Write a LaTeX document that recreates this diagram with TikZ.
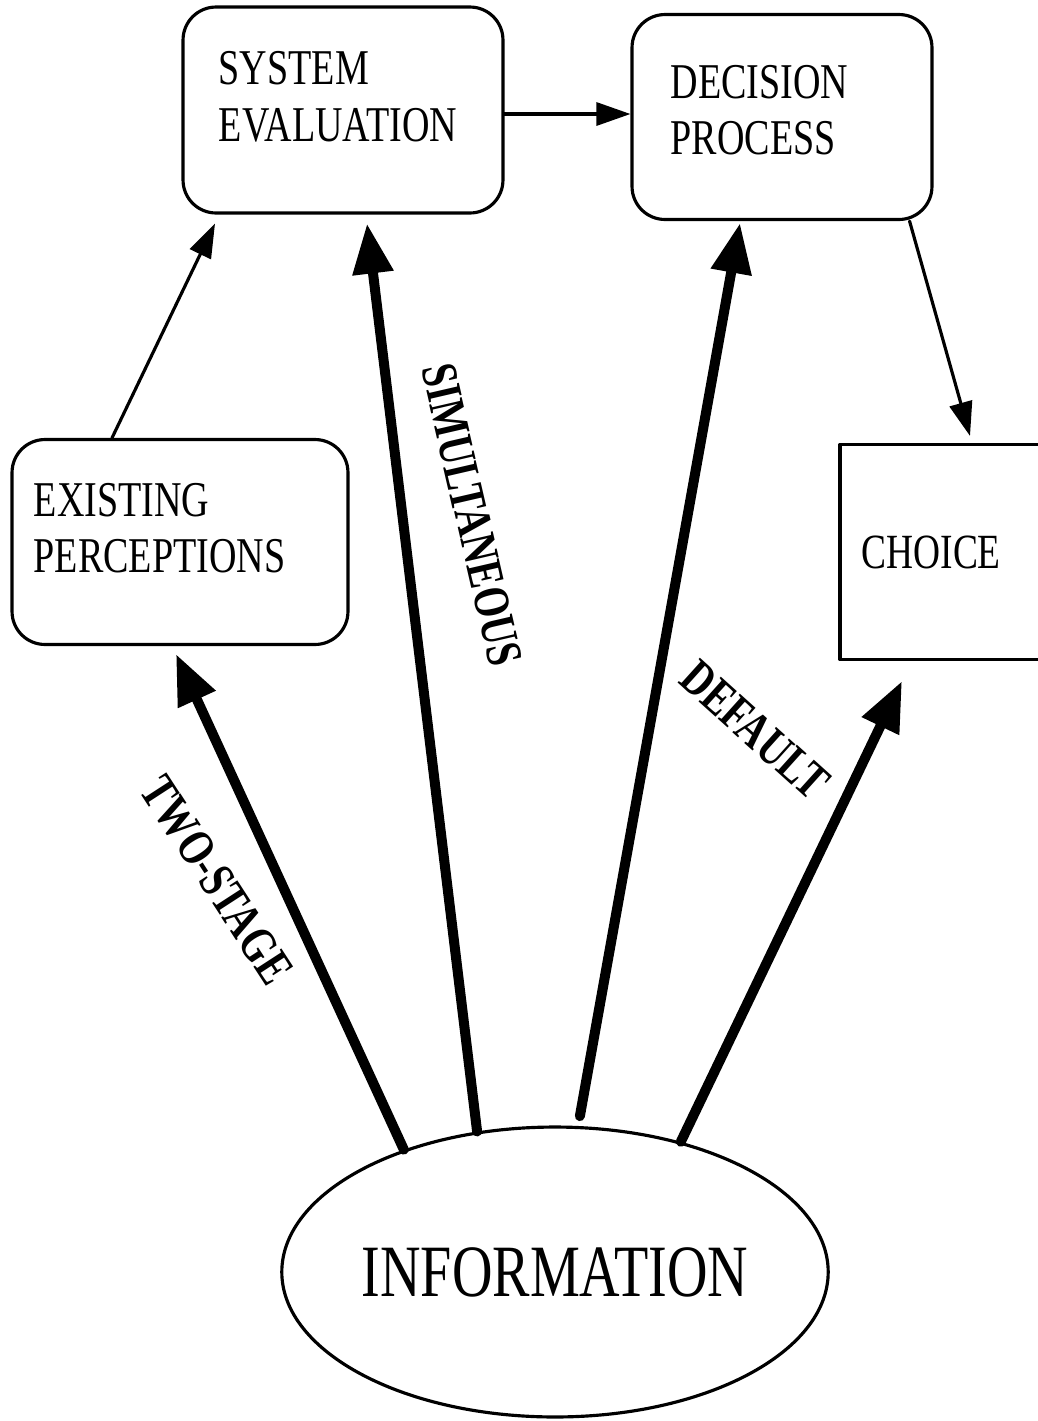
\documentclass[tikz,border=0pt]{standalone}
\usepackage{fontspec}
\setmainfont{Liberation Serif}[FakeStretch=0.76]
\usepackage{tikz}
\usetikzlibrary{calc}
\usetikzlibrary{arrows.meta}
\usetikzlibrary{shapes.geometric}

\tikzset{
  box/.style={draw, line width=1.8pt, rounded corners=0.66cm},
  boxtext/.style={align=left, inner sep=0pt, anchor=north west, font=\fontsize{28.5}{32}\selectfont},
  choicebox/.style={draw, line width=1.8pt, font=\fontsize{28}{32}\selectfont},
  infoellipse/.style={draw, ellipse, line width=1.8pt, inner sep=0pt,
    font=\fontsize{42}{42}\selectfont},
  thinarrow/.style={line width=1.8pt, -{Triangle[length=0.68cm, width=0.46cm]}},
  thickarrow/.style={line width=0.2cm, -{Triangle[length=1cm, width=0.78cm]}},
  arrowlabel/.style={font=\bfseries\fontsize{29}{29}\selectfont, inner sep=0pt}
}

\begin{document}
\begin{tikzpicture}[x=0.02cm, y=-0.02cm, line cap=round, line join=round]
  \useasboundingbox (0, 0) rectangle (1038, 1421);
  %--- Boxes
    \node[box, minimum width=6.4cm, minimum height=4.12cm,
      label={[boxtext, xshift=0.74cm, yshift=-0.92cm]north west:SYSTEM\\EVALUATION}] (syseval) at (343, 110) {};
    \node[box, minimum width=6cm, minimum height=4.1cm,
      label={[boxtext, xshift=0.8cm, yshift=-1.04cm]north west:DECISION\\PROCESS}] (decision) at (782, 117) {};
    \node[box, minimum width=6.72cm, minimum height=4.1cm,
      label={[boxtext, xshift=0.46cm, yshift=-0.9cm]north west:EXISTING\\PERCEPTIONS}] (existing) at (180, 542) {};
    \node[choicebox, minimum width=4.2cm, minimum height=4.3cm] (choice) at (945, 552) {\hspace*{-0.55cm}CHOICE};
  %--- Information
    \node[infoellipse, minimum width=10.68cm, minimum height=5.8cm] (info) at (555, 1272) {INFORMATION};
  %--- Thin arrows
    \draw[thinarrow] ($(syseval.east)+(0, 4)$) -- ($(syseval.east -| decision.west)+(0, 4)$);
    \draw[thinarrow] ($(existing.north)+(-68, 0)$) -- ($(syseval.south)+(-128, 9)$);
    \draw[thinarrow] ($(decision.south east)+(-24, 0)$) -- ($(choice.north)+(25, -7)$);
  %--- Two-stage
    \draw[thickarrow] (info.141) -- ($(existing.south)+(-4, 8)$);
    \node[arrowlabel, rotate=-57] (twostage) at (217, 880) {TWO-STAGE};
  %--- Simultaneous
    \draw[thickarrow] (info.119) -- ($(syseval.south)+(24, 9)$);
    \node[arrowlabel, rotate=-77] (simult) at (472, 515) {SIMULTANEOUS};
  %--- Default
    \draw[thickarrow, shorten <=0.2cm] (info.81) -- ($(decision.south)+(-42, 2)$);
    \draw[thickarrow] (info.46) -- ($(choice.south)+(-43, 20)$);
    \node[arrowlabel, rotate=-42] (default) at (755, 730) {DEFAULT};
\end{tikzpicture}
\end{document}
